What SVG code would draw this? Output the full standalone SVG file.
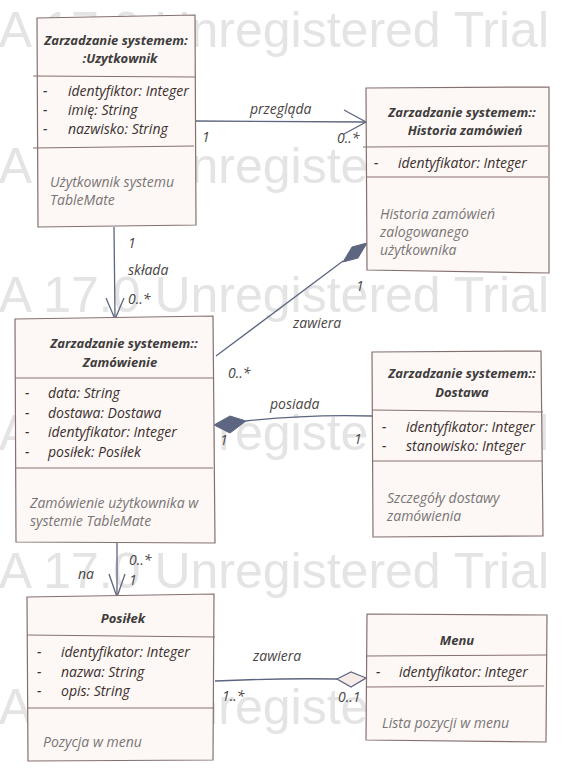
<svg xmlns="http://www.w3.org/2000/svg" width="563" height="776" viewBox="0 0 563 776">
<style>
.wm{font-family:"Liberation Sans",Arial,sans-serif;font-size:50px;fill:#e4e4e4;}
.box{fill:#fdf8f5;stroke:#857070;stroke-width:1.2;}
.sep{fill:none;stroke:#857070;stroke-width:1;}
.t{font-family:"Open Sans",sans-serif;font-style:italic;font-weight:bold;font-size:13px;fill:#3f3d3d;}
.a{font-family:"Open Sans",sans-serif;font-style:italic;font-size:14px;fill:#3b3030;}
.n{font-family:"Open Sans",sans-serif;font-style:italic;font-size:14px;fill:#7a7575;}
.l{font-family:"Open Sans",sans-serif;font-style:italic;font-size:14px;fill:#4a4545;}
.c{fill:none;stroke:#5d6680;stroke-width:1.3;}
.fd{fill:#5d6680;stroke:#5d6680;stroke-width:1;}
.hd{fill:#f7ebe8;stroke:#5d6680;stroke-width:1.3;}
</style>
<rect width="563" height="776" fill="#ffffff"/>
<g id="watermark">
<text class="wm" x="549" y="47" text-anchor="end">A 17.0 Unregistered Trial</text>
<text class="wm" x="549" y="183" text-anchor="end">A 17.0 Unregistered Trial</text>
<text class="wm" x="549" y="312" text-anchor="end">A 17.0 Unregistered Trial</text>
<text class="wm" x="549" y="450" text-anchor="end">A 17.0 Unregistered Trial</text>
<text class="wm" x="549" y="588" text-anchor="end">A 17.0 Unregistered Trial</text>
<text class="wm" x="549" y="724" text-anchor="end">A 17.0 Unregistered Trial</text>
</g>
<g id="connectors">
<path class="c" d="M194,121 L366,122"/>
<path class="c" d="M344,110 L366,122 L344,134"/>
<path class="c" d="M114,227 L115,318"/>
<path class="c" d="M106,298 L115,319 L124,298"/>
<path class="c" d="M216,356 L343,261"/>
<path class="fd" d="M367,243 L358,258 L343,262 L352,247 Z"/>
<path class="c" d="M246,421 Q310,414 372,416"/>
<path class="fd" d="M214,425 L230,416 L246,421 L230,433 Z"/>
<path class="c" d="M117,543 L117,596"/>
<path class="c" d="M109,574 L117,597 L125,574"/>
<path class="c" d="M215,681 Q280,678 337,679"/>
<path class="hd" d="M337,679 L351,672 L366,678 L351,687 Z"/>
<text class="l" x="250" y="114">przegląda</text>
<text class="l" x="202" y="142">1</text>
<text class="l" x="337" y="143">0..*</text>
<text class="l" x="128" y="248">1</text>
<text class="l" x="128" y="275">składa</text>
<text class="l" x="128" y="304">0..*</text>
<text class="l" x="293" y="328">zawiera</text>
<text class="l" x="356" y="291">1</text>
<text class="l" x="228" y="378">0..*</text>
<text class="l" x="270" y="409">posiada</text>
<text class="l" x="220" y="445">1</text>
<text class="l" x="354" y="444">1</text>
<text class="l" x="129" y="565">0..*</text>
<text class="l" x="129" y="585">1</text>
<text class="l" x="78" y="579">na</text>
<text class="l" x="253" y="661">zawiera</text>
<text class="l" x="222" y="701">1..*</text>
<text class="l" x="338" y="702">0..1</text>
</g>
<g id="uzytkownik">
<path class="box" d="M37,18 L195,15 L196,225 L38,227 Z"/>
<path class="sep" d="M33,76 L196,77"/>
<path class="sep" d="M33,148 L194,146"/>
<text class="t" x="116" y="45" text-anchor="middle">Zarzadzanie systemem:</text>
<text class="t" x="120" y="63" text-anchor="middle">:Uzytkownik</text>
<text class="a" x="43" y="96">-</text><text class="a" x="68" y="96">identyfiktor: Integer</text>
<text class="a" x="43" y="115">-</text><text class="a" x="68" y="115">imię: String</text>
<text class="a" x="43" y="134">-</text><text class="a" x="68" y="134">nazwisko: String</text>
<text class="n" x="50" y="187">Użytkownik systemu</text>
<text class="n" x="50" y="205">TableMate</text>
</g>
<g id="historia">
<path class="box" d="M366,88 L549,87 L549,273 L367,270 Z"/>
<path class="sep" d="M363,147 L548,146"/>
<path class="sep" d="M367,177 L548,177"/>
<text class="t" x="462" y="117" text-anchor="middle">Zarzadzanie systemem::</text>
<text class="t" x="465" y="135" text-anchor="middle">Historia zamówień</text>
<text class="a" x="374" y="168">-</text><text class="a" x="398" y="168">identyfikator: Integer</text>
<text class="n" x="380" y="219">Historia zamówień</text>
<text class="n" x="380" y="237">zalogowanego</text>
<text class="n" x="380" y="255">użytkownika</text>
</g>
<g id="zamowienie">
<path class="box" d="M15,319 L213,316 L215,543 L16,542 Z"/>
<path class="sep" d="M15,378 L213,378"/>
<path class="sep" d="M15,468 L213,468"/>
<text class="t" x="124" y="348" text-anchor="middle">Zarzadzanie systemem::</text>
<text class="t" x="120" y="367" text-anchor="middle">Zamówienie</text>
<text class="a" x="25" y="398">-</text><text class="a" x="48" y="398">data: String</text>
<text class="a" x="25" y="418">-</text><text class="a" x="48" y="418">dostawa: Dostawa</text>
<text class="a" x="25" y="437">-</text><text class="a" x="48" y="437">identyfikator: Integer</text>
<text class="a" x="25" y="457">-</text><text class="a" x="48" y="457">posiłek: Posiłek</text>
<text class="n" x="30" y="508">Zamówienie użytkownika w</text>
<text class="n" x="30" y="526">systemie TableMate</text>
</g>
<g id="dostawa">
<path class="box" d="M372,352 L541,351 L543,536 L373,537 Z"/>
<path class="sep" d="M372,410 L543,412"/>
<path class="sep" d="M372,461 L543,461"/>
<text class="t" x="462" y="378" text-anchor="middle">Zarzadzanie systemem::</text>
<text class="t" x="462" y="397" text-anchor="middle">Dostawa</text>
<text class="a" x="382" y="432">-</text><text class="a" x="406" y="432">identyfikator: Integer</text>
<text class="a" x="382" y="451">-</text><text class="a" x="406" y="451">stanowisko: Integer</text>
<text class="n" x="387" y="503">Szczegóły dostawy</text>
<text class="n" x="387" y="521">zamówienia</text>
</g>
<g id="posilek">
<path class="box" d="M27,597 L214,594 L213,760 L28,761 Z"/>
<path class="sep" d="M27,635 L215,637"/>
<path class="sep" d="M27,708 L214,708"/>
<text class="t" x="123" y="623" text-anchor="middle">Posiłek</text>
<text class="a" x="37" y="657">-</text><text class="a" x="61" y="657">identyfikator: Integer</text>
<text class="a" x="37" y="677">-</text><text class="a" x="61" y="677">nazwa: String</text>
<text class="a" x="37" y="696">-</text><text class="a" x="61" y="696">opis: String</text>
<text class="n" x="43" y="747">Pozycja w menu</text>
</g>
<g id="menu">
<path class="box" d="M367,614 L547,615 L546,742 L366,740 Z"/>
<path class="sep" d="M366,656 L547,655"/>
<path class="sep" d="M367,687 L544,686"/>
<text class="t" x="457" y="645" text-anchor="middle">Menu</text>
<text class="a" x="376" y="677">-</text><text class="a" x="399" y="677">identyfikator: Integer</text>
<text class="n" x="382" y="728">Lista pozycji w menu</text>
</g>
</svg>
